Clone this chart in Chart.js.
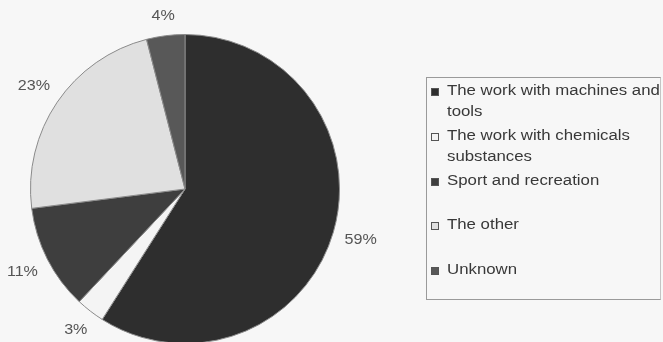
<!DOCTYPE html>
<html>
<head>
<meta charset="utf-8">
<script src="https://cdn.jsdelivr.net/npm/chart.js@4/dist/chart.umd.min.js"></script>
<style>
  html, body { margin: 0; padding: 0; background: #f7f7f7; }
  #wrap { position: relative; width: 663px; height: 342px; overflow: hidden; }
  #legend {
    position: absolute; left: 426px; top: 77px; width: 235px; height: 223px;
    border: 1px solid #9a9a9a; border-right-color: #c4c4c4; box-sizing: border-box;
    font-family: "Liberation Sans", Arial, sans-serif; font-size: 14px; color: #383838;
  }
  .item { position: absolute; left: 4px; }
  .box { position: absolute; left: 0; top: 5px; width: 8px; height: 8px; border: 1px solid #555; box-sizing: border-box; }
  .txt { position: absolute; left: 16px; top: 0; width: 182px; line-height: 21px; margin-top: -3px;
         white-space: normal; transform: scaleX(1.2); transform-origin: left top; }
</style>
</head>
<body>
<div id="wrap">
  <canvas id="pieChart" width="663" height="346"></canvas>
  <div id="legend"></div>
</div>
<script>
const categories = ["The work with machines and tools", "The work with chemicals substances", "Sport and recreation", "The other", "Unknown"];
const values = [59, 3, 11, 23, 4];
const colors = ["#2e2e2e", "#f4f4f4", "#3e3e3e", "#e0e0e0", "#585858"];

// legend slots are 45px apart, like the original
const legendEl = document.getElementById("legend");
categories.forEach((name, i) => {
    const item = document.createElement("div");
    item.className = "item";
    item.style.top = (5 + i * 44.8) + "px";
    item.innerHTML = `<div class="box" style="background:${colors[i]}"></div><div class="txt">${name}</div>`;
    legendEl.appendChild(item);
});

// percentage labels outside the slices (text box kept a fixed gap from the edge)
const outsideLabels = {
    id: "outsideLabels",
    afterDatasetsDraw(chart) {
        const ctx = chart.ctx;
        const meta = chart.getDatasetMeta(0);
        ctx.save();
        ctx.font = '14px "Liberation Sans", Arial, sans-serif';
        ctx.fillStyle = "#555";
        ctx.textAlign = "center";
        ctx.textBaseline = "middle";
        meta.data.forEach((arc, i) => {
            const p = arc.getProps(["x", "y", "startAngle", "endAngle", "outerRadius"], true);
            const mid = (p.startAngle + p.endAngle) / 2;
            const text = values[i] + "%";
            const halfW = ctx.measureText(text).width * 1.15 / 2;
            const halfH = 7;
            const r = p.outerRadius + 11 + halfW * Math.abs(Math.cos(mid)) + halfH * Math.abs(Math.sin(mid));
            const x = p.x + Math.cos(mid) * r;
            const y = p.y + Math.sin(mid) * r;
            ctx.save();
            ctx.translate(x, y);
            ctx.scale(1.15, 1);
            ctx.fillText(text, 0, 0);
            ctx.restore();
        });
        ctx.restore();
    }
};

const ctx1 = document.getElementById("pieChart").getContext("2d");
const chart1 = new Chart(ctx1, {
    type: "pie",
    data: {
        labels: categories,
        datasets: [{
            data: values,
            backgroundColor: colors,
            borderColor: "#8a8a8a",
            borderWidth: 1
        }]
    },
    options: {
        responsive: false,
        animation: false,
        layout: { padding: { left: 30, right: 323, top: 34, bottom: 2 } },
        plugins: {
            legend: { display: false },
            tooltip: { enabled: false }
        }
    },
    plugins: [outsideLabels]
});
</script>
</body>
</html>
